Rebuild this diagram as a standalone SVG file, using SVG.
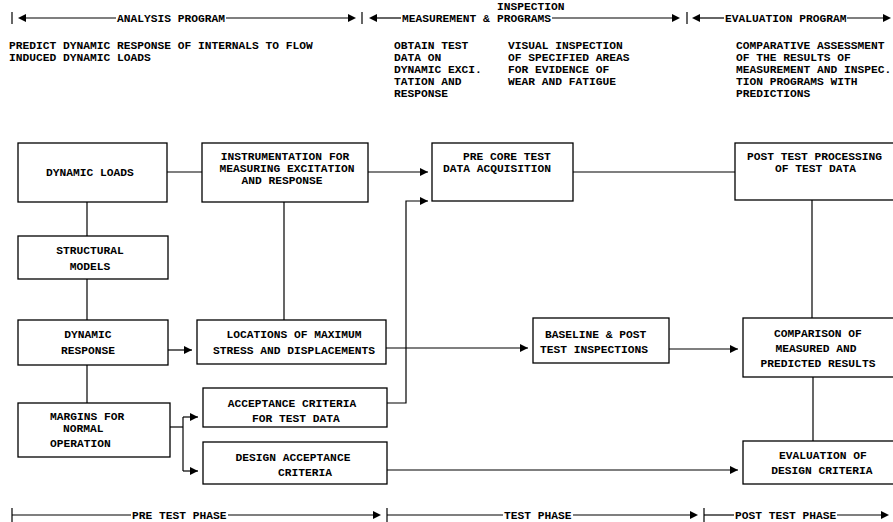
<svg xmlns="http://www.w3.org/2000/svg" width="893" height="522" viewBox="0 0 893 522">
<defs>
<marker id="ah" markerWidth="9" markerHeight="9" refX="8" refY="4.5" orient="auto" markerUnits="userSpaceOnUse"><path d="M0,0.5 L8,4.5 L0,8.5 z" fill="#000"/></marker>
<style>
text{font-family:"Liberation Mono","DejaVu Sans Mono",monospace;font-size:11.25px;font-weight:bold;fill:#000}
.m{text-anchor:middle}
rect{fill:#fff;stroke:#000;stroke-width:1.3}
line,polyline{stroke:#000;stroke-width:1.2;fill:none}
.tri{fill:#000}
</style>
</defs>
<rect x="0" y="0" width="893" height="522" style="stroke:none;fill:#fff"/>

<g id="header">
<line x1="12" y1="12" x2="12" y2="24"/>
<path class="tri" d="M18,18 L26,14 L26,22 z"/>
<line x1="26" y1="18" x2="116" y2="18"/>
<text x="117" y="22">ANALYSIS PROGRAM</text>
<line x1="226" y1="18" x2="348" y2="18"/>
<path class="tri" d="M356,18 L348,14 L348,22 z"/>
<line x1="362" y1="12" x2="362" y2="24"/>
<path class="tri" d="M369,18 L377,14 L377,22 z"/>
<line x1="377" y1="18" x2="401" y2="18"/>
<text x="402" y="22">MEASUREMENT &amp;</text>
<text x="497" y="10">INSPECTION</text>
<text x="497" y="22">PROGRAMS</text>
<line x1="552" y1="18" x2="672" y2="18"/>
<path class="tri" d="M680,18 L672,14 L672,22 z"/>
<line x1="687" y1="12" x2="687" y2="24"/>
<path class="tri" d="M692,18 L700,14 L700,22 z"/>
<line x1="700" y1="18" x2="724" y2="18"/>
<text x="725" y="22">EVALUATION PROGRAM</text>
<line x1="847" y1="18" x2="883" y2="18"/>
<path class="tri" d="M891,18 L883,14 L883,22 z"/>
</g>

<g id="descriptions">
<text x="9" y="49">PREDICT DYNAMIC RESPONSE OF INTERNALS TO FLOW</text>
<text x="9" y="61">INDUCED DYNAMIC LOADS</text>
<text x="394" y="49">OBTAIN TEST</text>
<text x="394" y="61">DATA ON</text>
<text x="394" y="73">DYNAMIC EXCI.</text>
<text x="394" y="85">TATION AND</text>
<text x="394" y="97">RESPONSE</text>
<text x="508" y="49">VISUAL INSPECTION</text>
<text x="508" y="61">OF SPECIFIED AREAS</text>
<text x="508" y="73">FOR EVIDENCE OF</text>
<text x="508" y="85">WEAR AND FATIGUE</text>
<text x="736" y="49">COMPARATIVE ASSESSMENT</text>
<text x="736" y="61">OF THE RESULTS OF</text>
<text x="736" y="73">MEASUREMENT AND INSPEC.</text>
<text x="736" y="85">TION PROGRAMS WITH</text>
<text x="736" y="97">PREDICTIONS</text>
</g>

<g id="connectors">
<line x1="167" y1="172" x2="202" y2="172"/>
<line x1="368" y1="172" x2="428" y2="172" marker-end="url(#ah)"/>
<line x1="573" y1="172" x2="735" y2="172"/>
<line x1="87" y1="202" x2="87" y2="236"/>
<line x1="87" y1="279" x2="87" y2="320"/>
<line x1="284" y1="202" x2="284" y2="320"/>
<line x1="168" y1="350" x2="192" y2="350" marker-end="url(#ah)"/>
<line x1="386" y1="348" x2="528" y2="348" marker-end="url(#ah)"/>
<line x1="669" y1="349" x2="738" y2="349" marker-end="url(#ah)"/>
<line x1="812" y1="200" x2="812" y2="318"/>
<line x1="813" y1="377" x2="813" y2="441"/>
<line x1="87" y1="365" x2="87" y2="403"/>
<polyline points="170,427 183,427"/>
<line x1="183" y1="417" x2="183" y2="471"/>
<line x1="183" y1="417" x2="198" y2="417" marker-end="url(#ah)"/>
<line x1="183" y1="471" x2="198" y2="471" marker-end="url(#ah)"/>
<polyline points="387,403 406,403 406,201 428,201" marker-end="url(#ah)"/>
<line x1="387" y1="470" x2="738" y2="470" marker-end="url(#ah)"/>
</g>

<g id="dynamic-loads"><rect x="18" y="143" width="149" height="59"/><text class="m" x="90" y="176">DYNAMIC LOADS</text></g>
<g id="instrumentation"><rect x="202" y="143" width="166" height="59"/><text class="m" x="285" y="160">INSTRUMENTATION FOR</text><text class="m" x="287" y="172">MEASURING EXCITATION</text><text class="m" x="282" y="184">AND RESPONSE</text></g>
<g id="pre-core"><rect x="432" y="143" width="141" height="58"/><text x="463" y="160">PRE CORE TEST</text><text x="443" y="172">DATA ACQUISITION</text></g>
<g id="post-test"><rect x="735" y="143" width="170" height="57"/><text x="747" y="160">POST TEST PROCESSING</text><text x="775" y="172">OF TEST DATA</text></g>
<g id="structural-models"><rect x="18" y="236" width="150" height="43"/><text class="m" x="90" y="254">STRUCTURAL</text><text class="m" x="90" y="270">MODELS</text></g>
<g id="dynamic-response"><rect x="18" y="320" width="150" height="45"/><text class="m" x="88" y="338">DYNAMIC</text><text class="m" x="88" y="354">RESPONSE</text></g>
<g id="locations"><rect x="197" y="320" width="189" height="44"/><text class="m" x="294" y="338">LOCATIONS OF MAXIMUM</text><text class="m" x="294" y="354">STRESS AND DISPLACEMENTS</text></g>
<g id="baseline"><rect x="533" y="318" width="136" height="45"/><text x="545" y="338">BASELINE &amp; POST</text><text x="540" y="353">TEST INSPECTIONS</text></g>
<g id="comparison"><rect x="743" y="318" width="160" height="59"/><text class="m" x="818" y="337">COMPARISON OF</text><text class="m" x="816" y="352">MEASURED AND</text><text class="m" x="818" y="367">PREDICTED RESULTS</text></g>
<g id="acceptance"><rect x="203" y="388" width="184" height="39"/><text class="m" x="292" y="407">ACCEPTANCE CRITERIA</text><text class="m" x="296" y="422">FOR TEST DATA</text></g>
<g id="margins"><rect x="18" y="403" width="152" height="54"/><text x="50" y="420">MARGINS FOR</text><text x="63" y="432">NORMAL</text><text x="50" y="447">OPERATION</text></g>
<g id="design-acceptance"><rect x="203" y="442" width="184" height="42"/><text class="m" x="293" y="461">DESIGN ACCEPTANCE</text><text class="m" x="305" y="476">CRITERIA</text></g>
<g id="evaluation"><rect x="743" y="441" width="160" height="43"/><text class="m" x="823" y="459">EVALUATION OF</text><text class="m" x="822" y="474">DESIGN CRITERIA</text></g>

<g id="phases">
<line x1="12" y1="508" x2="12" y2="522"/>
<line x1="12" y1="515" x2="131" y2="515"/>
<text x="132" y="519">PRE TEST PHASE</text>
<line x1="228" y1="515" x2="373" y2="515"/>
<path class="tri" d="M381,515 L373,511 L373,519 z"/>
<line x1="387" y1="508" x2="387" y2="522"/>
<line x1="387" y1="515" x2="503" y2="515"/>
<text x="504" y="519">TEST PHASE</text>
<line x1="573" y1="515" x2="690" y2="515"/>
<path class="tri" d="M698,515 L690,511 L690,519 z"/>
<line x1="704" y1="508" x2="704" y2="522"/>
<line x1="704" y1="515" x2="734" y2="515"/>
<text x="735" y="519">POST TEST PHASE</text>
<line x1="837" y1="515" x2="881" y2="515"/>
<path class="tri" d="M889,515 L881,511 L881,519 z"/>
</g>
</svg>
